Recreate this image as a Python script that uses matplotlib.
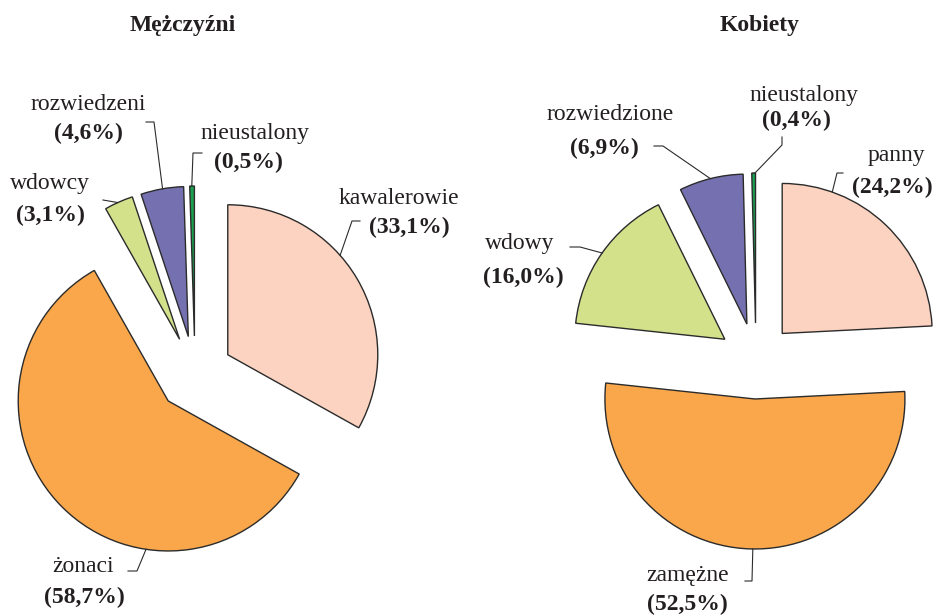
import numpy as np
import matplotlib
matplotlib.use("Agg")
import matplotlib.pyplot as plt

# --- data ---
men_labels = ["kawalerowie", "żonaci", "wdowcy", "rozwiedzeni", "nieustalony"]
men_values = [33.1, 58.7, 3.1, 4.6, 0.5]
women_labels = ["panny", "zamężne", "wdowy", "rozwiedzione", "nieustalony"]
women_values = [24.2, 52.5, 16.0, 6.9, 0.4]
colors = ["#FCD3C1", "#F9A74A", "#D3E18B", "#7571B1", "#1BA050"]

TXT = "#231F20"
EDGE = "#2B2B2B"
R = 150
EXPL = 38

plt.rcParams['font.family'] = ['Liberation Serif', 'DejaVu Serif']

fig = plt.figure(figsize=(9.36, 6.15), dpi=100)
ax = fig.add_axes([0, 0, 1, 1])


def draw_pie(values, center):
    wedges, _ = ax.pie(values, colors=colors, startangle=90, counterclock=False,
                       radius=R, center=center, explode=[EXPL] * len(values),
                       wedgeprops=dict(edgecolor=EDGE, linewidth=1.0))
    return wedges


def label(wedge, name, val, name_xy, pct_xy, elbow, angle):
    cx, cy = wedge.center
    a = np.deg2rad(angle)
    end = (cx + wedge.r * np.cos(a), cy + wedge.r * np.sin(a))
    xs = [p[0] for p in elbow] + [end[0]]
    ys = [p[1] for p in elbow] + [end[1]]
    ax.plot(xs, ys, color=EDGE, lw=0.8)
    ax.text(*name_xy, name, ha='center', va='center', fontsize=17, color=TXT)
    ax.text(*pct_xy, "(" + f"{val:.1f}".replace(".", ",") + "%)", ha='center',
            va='center', fontsize=17, fontweight='bold', color=TXT)


mw = draw_pie(men_values, (195, 241))
ww = draw_pie(women_values, (756, 254))

# label layout: name pos, percent pos, leader elbow, attach angle on arc
men_layout = [
    ((399, 416), (409, 388), [(360, 394), (352, 394)], 41.5),
    ((83, 48), (84, 18), [(128, 44), (137, 44)], 261.5),
    ((50, 432), (50, 400), [(103, 415)], 114.3),
    ((88, 510), (88, 482), [(146, 493), (154, 493)], 99.9),
    ((255, 482), (248, 453), [(202, 462), (193, 462)], 91.0),
]
women_layout = [
    ((896, 460), (892, 428), [(843, 442), (837, 442)], 70.5),
    ((688, 39), (687, 11), [(745, 34), (752, 34)], 269.2),
    ((520, 372), (523, 338), [(570, 368), (580, 368)], 144.9),
    ((610, 500), (604, 467), [(654, 469), (663, 469)], 104.1),
    ((804, 520), (796, 495), [(782, 478), (782, 470)], 90.2),
]

for w, n, v, lay in zip(mw, men_labels, men_values, men_layout):
    label(w, n, v, *lay)
for w, n, v, lay in zip(ww, women_labels, women_values, women_layout):
    label(w, n, v, *lay)

ax.text(183, 590, "Mężczyźni", ha='center', va='center', fontsize=17,
        fontweight='bold', color=TXT)
ax.text(760, 590, "Kobiety", ha='center', va='center', fontsize=17,
        fontweight='bold', color=TXT)

ax.set_xlim(0, 936)
ax.set_ylim(0, 615)
ax.set_aspect('auto')
ax.axis('off')

fig.savefig("out.png", dpi=100, facecolor='white')
